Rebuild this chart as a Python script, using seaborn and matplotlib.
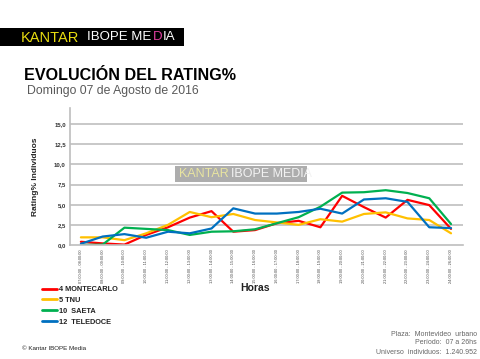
import matplotlib
matplotlib.use("Agg")
import matplotlib.pyplot as plt
import seaborn as sns
import pandas as pd
from matplotlib.patches import Rectangle

hours = [f"{h:02d}:00:00 - {h + 1:02d}:00:00" for h in range(7, 24)] + ["24:00:00 - 26:00:00"]
montecarlo = [0.4, 0.2, 0.05, 1.25, 2.2, 3.4, 4.2, 1.65, 1.85, 2.7, 3.0, 2.2, 6.1, 4.7, 3.4, 5.6, 4.95, 2.0]
tnu = [0.95, 0.95, 0.6, 1.45, 2.5, 4.1, 3.45, 3.85, 3.1, 2.8, 2.5, 3.2, 2.9, 3.85, 4.05, 3.3, 3.1, 1.45]
saeta = [0.0, 0.05, 2.15, 2.0, 1.85, 1.25, 1.65, 1.7, 1.95, 2.7, 3.45, 4.75, 6.5, 6.55, 6.8, 6.45, 5.8, 2.6]
teledoce = [0.15, 1.05, 1.35, 0.9, 1.65, 1.45, 2.05, 4.55, 3.9, 3.9, 4.1, 4.5, 3.9, 5.65, 5.8, 5.35, 2.2, 2.1]
channels = ["4 MONTECARLO", "5 TNU", "10  SAETA", "12  TELEDOCE"]
colors = ["#ff0000", "#ffc000", "#00b050", "#0070c0"]
yticks = [0, 2.5, 5, 7.5, 10, 12.5, 15]
ytick_labels = ["0,0", "2,5", "5,0", "7,5", "10,0", "12,5", "15,0"]

sns.set_theme(style="white")
plt.rcParams["font.family"] = ["Liberation Sans", "DejaVu Sans"]

rows = []
for name, vals in zip(channels, [montecarlo, tnu, saeta, teledoce]):
    for i, v in enumerate(vals):
        rows.append({"x": i, "hora": hours[i], "Canal": name, "rating": v})
df = pd.DataFrame(rows)

fig = plt.figure(figsize=(4.8, 3.59), dpi=100)
ax = fig.add_axes([70 / 480, 1 - 245 / 359, (463 - 70) / 480, (245 - 108) / 359])

sns.lineplot(data=df, x="x", y="rating", hue="Canal", palette=dict(zip(channels, colors)),
             hue_order=channels, linewidth=1.6, ax=ax)

ax.set_xlim(-0.5, 17.55)
ax.set_ylim(0, 17)
ax.set_yticks(yticks)
ax.set_yticklabels(ytick_labels, fontsize=4.3, fontweight="bold", color="#333333")
ax.set_xticks(range(len(hours)))
ax.set_xticklabels(hours, rotation=90, fontsize=2.8, color="#444444")
ax.tick_params(axis="both", length=0, pad=3)
for y in yticks[1:]:
    ax.axhline(y, color="#c8c8c8", lw=1.4, zorder=0)
for s in ["top", "right"]:
    ax.spines[s].set_visible(False)
for s in ["left", "bottom"]:
    ax.spines[s].set_color("#bdbdbd")
    ax.spines[s].set_linewidth(1.2)
ax.set_xlabel("")
ax.set_ylabel("Rating% Individuos", fontsize=6, fontweight="bold", color="#222222", labelpad=11)
fig.text(255 / 480, 1 - 288 / 359, "Horas", fontsize=7.5, fontweight="bold", color="#222222",
         ha="center", va="center")

leg = ax.legend(loc="upper left", bbox_to_anchor=(42 / 480, 1 - 286 / 359),
                bbox_transform=fig.transFigure, frameon=False, fontsize=5.3,
                handlelength=2.0, handletextpad=0.25, labelspacing=0.5,
                borderpad=0, borderaxespad=0)
for t in leg.get_texts():
    t.set_fontweight("bold")
    t.set_color("#222222")
for h in leg.get_lines():
    h.set_linewidth(2)

# Logo banner
fig.patches.append(Rectangle((0, 1 - 46 / 359), 184 / 480, 18 / 359, transform=fig.transFigure,
                             facecolor="black", edgecolor="none"))
fig.text(21 / 480, 1 - 37.5 / 359, "KANTAR", fontsize=10.5, color="#e8dc10", va="center", ha="left")
fig.text(87 / 480, 1 - 37.5 / 359, "IBOPE ME", fontsize=9.5, color="white", va="center", ha="left")
fig.text(153 / 480, 1 - 37.5 / 359, "D", fontsize=9.5, color="#e040a0", va="center", ha="left")
fig.text(163 / 480, 1 - 37.5 / 359, "IA", fontsize=9.5, color="white", va="center", ha="left")

# Titles
fig.text(24 / 480, 1 - 76 / 359, "EVOLUCIÓN DEL RATING%", fontsize=11.6, fontweight="bold",
         color="black", va="center", ha="left")
fig.text(27 / 480, 1 - 91 / 359, "Domingo 07 de Agosto de 2016", fontsize=8.8, color="#595959",
         va="center", ha="left")

# Watermark
fig.patches.append(Rectangle((175 / 480, 1 - 182 / 359), 132 / 480, 16 / 359, transform=fig.transFigure,
                             facecolor="#a9a9a9", edgecolor="none", alpha=0.95, zorder=5))
fig.text(179 / 480, 1 - 174 / 359, "KANTAR", fontsize=9, color="#e8e4a0", va="center", ha="left", zorder=6)
fig.text(231 / 480, 1 - 174 / 359, "IBOPE MEDIA", fontsize=9, color="#f2f2f2", va="center", ha="left", zorder=6)

# Footer texts
fig.text(22 / 480, 1 - 348 / 359, "© Kantar IBOPE Media", fontsize=4.5, color="#222222",
         va="center", ha="left")
for k, line in enumerate(["Plaza:  Montevideo  urbano", "Período:  07 a 26hs", "Universo  individuos:  1.240.952"]):
    fig.text(477 / 480, 1 - (334 + 9 * k) / 359, line, fontsize=5, color="#666666", va="center", ha="right")

fig.savefig("out.png", dpi=100)
